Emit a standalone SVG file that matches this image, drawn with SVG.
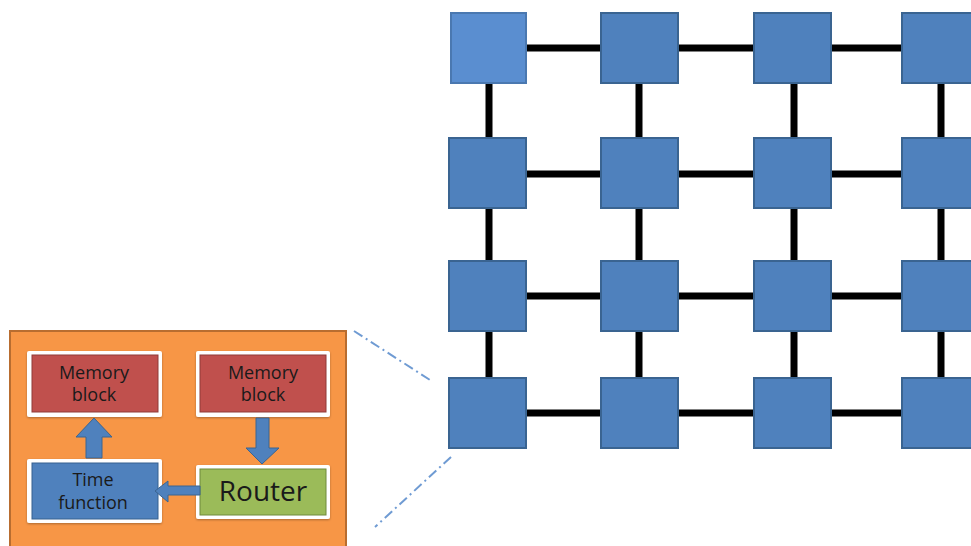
<svg xmlns="http://www.w3.org/2000/svg" width="971" height="546" viewBox="0 0 971 546">
<style>
.sq{fill:#4f81bd;stroke:#3a6491;stroke-width:2}
.lk{stroke:#000;stroke-width:7;fill:none}
.wb{fill:#fff;filter:url(#sh)}
.t{font-family:"Open Sans","Liberation Sans",sans-serif;fill:#1a1a1a;text-anchor:middle}
.ar{fill:#4f81bd;stroke:#3a6491;stroke-width:1}
.dd{stroke:#6f9bd3;stroke-width:2;stroke-dasharray:10 4 2 4;fill:none}
</style>
<defs>
<filter id="sh" x="-10%" y="-10%" width="120%" height="130%"><feDropShadow dx="0" dy="1" stdDeviation="1" flood-color="#000" flood-opacity="0.3"/></filter>
</defs>
<rect width="971" height="546" fill="#fff"/>
<g id="links">
<line class="lk" x1="489" y1="48" x2="941" y2="48"/>
<line class="lk" x1="489" y1="174" x2="941" y2="174"/>
<line class="lk" x1="489" y1="296" x2="941" y2="296"/>
<line class="lk" x1="489" y1="413" x2="941" y2="413"/>
<line class="lk" x1="489" y1="48" x2="489" y2="413"/>
<line class="lk" x1="639" y1="48" x2="639" y2="413"/>
<line class="lk" x1="794" y1="48" x2="794" y2="413"/>
<line class="lk" x1="941" y1="48" x2="941" y2="413"/>
</g>
<g id="mesh">
<rect id="n11" x="451" y="13" width="75" height="70" fill="#5a8ed0" stroke="#4a78b0" stroke-width="2"/>
<rect id="n12" class="sq" x="601" y="13" width="77" height="70"/>
<rect id="n13" class="sq" x="754" y="13" width="77" height="70"/>
<rect id="n14" class="sq" x="902" y="13" width="77" height="70"/>
<rect id="n21" class="sq" x="449" y="138" width="77" height="70"/>
<rect id="n22" class="sq" x="601" y="138" width="77" height="70"/>
<rect id="n23" class="sq" x="754" y="138" width="77" height="70"/>
<rect id="n24" class="sq" x="902" y="138" width="77" height="70"/>
<rect id="n31" class="sq" x="449" y="261" width="77" height="70"/>
<rect id="n32" class="sq" x="601" y="261" width="77" height="70"/>
<rect id="n33" class="sq" x="754" y="261" width="77" height="70"/>
<rect id="n34" class="sq" x="902" y="261" width="77" height="70"/>
<rect id="n41" class="sq" x="449" y="378" width="77" height="70"/>
<rect id="n42" class="sq" x="601" y="378" width="77" height="70"/>
<rect id="n43" class="sq" x="754" y="378" width="77" height="70"/>
<rect id="n44" class="sq" x="902" y="378" width="77" height="70"/>
</g>
<g id="zoomlines">
<line class="dd" x1="354" y1="331" x2="430" y2="380"/>
<line class="dd" x1="451" y1="457" x2="375" y2="527"/>
</g>
<g id="panel">
<rect x="10" y="331" width="336" height="230" fill="#f79646" stroke="#b86d30" stroke-width="2"/>
</g>
<g id="mem1">
<rect class="wb" x="27" y="351" width="135" height="66" rx="2"/>
<rect x="32" y="355" width="126" height="57" fill="#c0504d" stroke="#8f3a38" stroke-width="1"/>
<text class="t" x="94" y="379" font-size="18">Memory</text>
<text class="t" x="94" y="401" font-size="18">block</text>
</g>
<g id="mem2">
<rect class="wb" x="196" y="351" width="134" height="66" rx="2"/>
<rect x="200" y="355" width="126" height="57" fill="#c0504d" stroke="#8f3a38" stroke-width="1"/>
<text class="t" x="263" y="379" font-size="18">Memory</text>
<text class="t" x="263" y="401" font-size="18">block</text>
</g>
<g id="timefn">
<rect class="wb" x="27" y="459" width="135" height="64" rx="2"/>
<rect x="32" y="463" width="126" height="56" fill="#4f81bd" stroke="#36608f" stroke-width="1"/>
<text class="t" x="93" y="486" font-size="18">Time</text>
<text class="t" x="93" y="509" font-size="18">function</text>
</g>
<g id="router">
<rect class="wb" x="196" y="465" width="134" height="54" rx="2"/>
<rect x="200" y="469" width="126" height="46" fill="#9bbb59" stroke="#6f8a3c" stroke-width="1"/>
<text class="t" x="263" y="501" font-size="28">Router</text>
</g>
<g id="arrows">
<polygon class="ar" points="86,458 86,437 76,437 94,418 112,437 102,437 102,458"/>
<polygon class="ar" points="256,418 269,418 269,448 279,448 262,464 246,448 256,448"/>
<polygon class="ar" points="200,486 168,486 168,481 155,491 168,502 168,495 200,495"/>
</g>
</svg>
